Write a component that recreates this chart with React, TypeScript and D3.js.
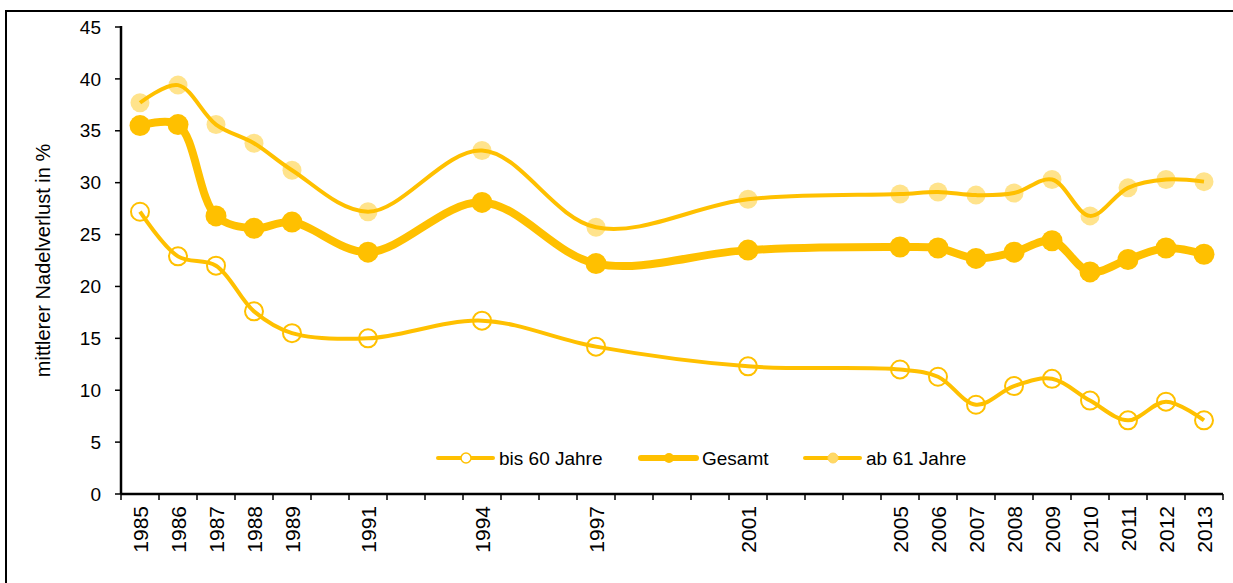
import React, { useEffect, useRef } from "react";
import * as d3 from "d3";

const years = [1985, 1986, 1987, 1988, 1989, 1991, 1994, 1997, 2001, 2005, 2006, 2007, 2008, 2009, 2010, 2011, 2012, 2013];
const bis60 = [27.2, 22.9, 22.0, 17.6, 15.5, 15.0, 16.7, 14.2, 12.3, 12.0, 11.3, 8.6, 10.4, 11.1, 9.0, 7.1, 8.9, 7.1];
const gesamt = [35.5, 35.6, 26.8, 25.6, 26.2, 23.3, 28.1, 22.2, 23.5, 23.8, 23.7, 22.7, 23.3, 24.4, 21.4, 22.6, 23.7, 23.1];
const ab61 = [37.7, 39.4, 35.6, 33.8, 31.2, 27.2, 33.1, 25.7, 28.4, 28.9, 29.1, 28.8, 29.0, 30.3, 26.8, 29.5, 30.3, 30.1];
const yTicks = [0, 5, 10, 15, 20, 25, 30, 35, 40, 45];
const legendLabels = ["bis 60 Jahre", "Gesamt", "ab 61 Jahre"];

const width = 1233;
const height = 583;
const margin = { top: 27, right: 10, bottom: 89, left: 121 };
const gold = "#FFC000";
const font = "'Liberation Sans', Arial, sans-serif";

export default function App() {
  const ref = useRef<SVGSVGElement>(null);

  useEffect(() => {
    const svg = d3.select(ref.current);
    svg.selectAll("*").remove();

    const x = d3.scaleLinear().domain([1984.5, 2013.5]).range([margin.left, 1223]);
    const y = d3.scaleLinear().domain([0, 45]).range([height - margin.bottom, margin.top]);

    // outer frame
    svg
      .append("rect")
      .attr("x", 6)
      .attr("y", 11)
      .attr("width", width + 20)
      .attr("height", height + 20)
      .attr("fill", "none")
      .attr("stroke", "#000")
      .attr("stroke-width", 2);

    // y axis
    const yAxis = svg.append("g").attr("transform", `translate(${margin.left},0)`);
    yAxis
      .append("line")
      .attr("y1", y(45) - 1)
      .attr("y2", y(0))
      .attr("stroke", "#000")
      .attr("stroke-width", 2.5);
    yAxis
      .selectAll("g.t")
      .data(yTicks)
      .join("g")
      .attr("class", "t")
      .attr("transform", d => `translate(0,${y(d)})`)
      .call(g => g.append("line").attr("x1", -6).attr("x2", 0).attr("stroke", "#000").attr("stroke-width", 1.5))
      .call(g =>
        g
          .append("text")
          .attr("x", -20)
          .attr("dy", "0.35em")
          .attr("text-anchor", "end")
          .attr("font-family", font)
          .attr("font-size", 19)
          .text(d => d)
      );

    svg
      .append("text")
      .attr("transform", `translate(50,${(y(0) + y(45)) / 2}) rotate(-90)`)
      .attr("text-anchor", "middle")
      .attr("font-family", font)
      .attr("font-size", 20)
      .text("mittlerer Nadelverlust in %");

    // x axis
    const xAxis = svg.append("g").attr("transform", `translate(0,${y(0)})`);
    xAxis
      .append("line")
      .attr("x1", x(1984.5))
      .attr("x2", x(2013.5))
      .attr("stroke", "#000")
      .attr("stroke-width", 2.5);
    xAxis
      .selectAll("line.tk")
      .data(d3.range(1984.5, 2014, 1))
      .join("line")
      .attr("class", "tk")
      .attr("x1", d => x(d))
      .attr("x2", d => x(d))
      .attr("y1", 0)
      .attr("y2", 6)
      .attr("stroke", "#000")
      .attr("stroke-width", 1.5);
    xAxis
      .selectAll("text")
      .data(years)
      .join("text")
      .attr("transform", d => `translate(${x(d)},12) rotate(-90)`)
      .attr("dy", "0.36em")
      .attr("text-anchor", "end")
      .attr("font-family", font)
      .attr("font-size", 21)
      .text(d => d);

    const line = d3
      .line<number>()
      .x((_, i) => x(years[i]))
      .y(d => y(d))
      .curve(d3.curveCatmullRom.alpha(0.5));

    // ab 61
    svg.append("path").attr("d", line(ab61)).attr("fill", "none").attr("stroke", gold).attr("stroke-width", 4);
    svg
      .append("g")
      .selectAll("circle")
      .data(ab61)
      .join("circle")
      .attr("cx", (_, i) => x(years[i]))
      .attr("cy", d => y(d))
      .attr("r", 9.5)
      .attr("fill", gold)
      .attr("fill-opacity", 0.45);

    // Gesamt
    svg.append("path").attr("d", line(gesamt)).attr("fill", "none").attr("stroke", gold).attr("stroke-width", 8);
    svg
      .append("g")
      .selectAll("circle")
      .data(gesamt)
      .join("circle")
      .attr("cx", (_, i) => x(years[i]))
      .attr("cy", d => y(d))
      .attr("r", 10.5)
      .attr("fill", gold);

    // bis 60
    svg.append("path").attr("d", line(bis60)).attr("fill", "none").attr("stroke", gold).attr("stroke-width", 4);
    svg
      .append("g")
      .selectAll("circle")
      .data(bis60)
      .join("circle")
      .attr("cx", (_, i) => x(years[i]))
      .attr("cy", d => y(d))
      .attr("r", 9)
      .attr("fill", "none")
      .attr("stroke", gold)
      .attr("stroke-width", 2);

    // legend
    const lx = [438, 641, 805];
    const ly = 458;
    const lg = svg.append("g");
    legendLabels.forEach((label, i) => {
      const g = lg.append("g").attr("transform", `translate(${lx[i]},${ly})`);
      g.append("line")
        .attr("x1", 0)
        .attr("x2", 55)
        .attr("stroke", gold)
        .attr("stroke-width", i === 1 ? 6 : 4)
        .attr("stroke-linecap", "round");
      const c = g.append("circle").attr("cx", 28).attr("r", 5);
      if (i === 0) c.attr("fill", "white").attr("stroke", gold).attr("stroke-width", 1.5);
      else if (i === 1) c.attr("fill", gold);
      else c.attr("fill", "#FFD966").attr("stroke", "#FFD35C");
      g.append("text")
        .attr("x", 61)
        .attr("dy", "0.36em")
        .attr("font-family", font)
        .attr("font-size", 19)
        .text(label);
    });
  }, []);

  return (
    <svg
      ref={ref}
      width={width}
      height={height}
      style={{ position: "absolute", left: 0, top: 0, background: "#fff" }}
    />
  );
}
